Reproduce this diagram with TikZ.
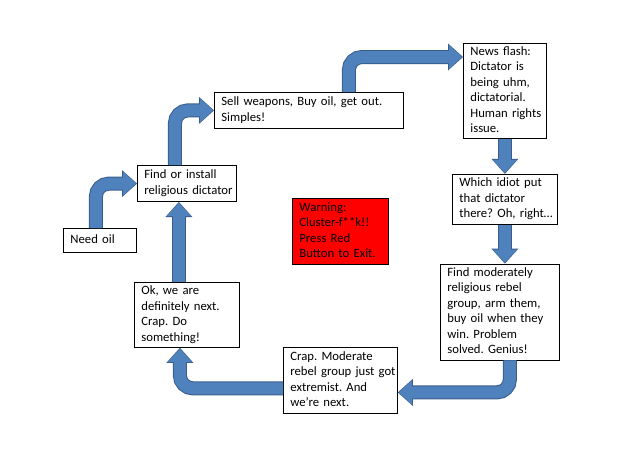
\documentclass[tikz,border=0pt]{standalone}
\usepackage{fontspec}
\setmainfont{Carlito}
\usetikzlibrary{arrows.meta, positioning}
\definecolor{flowblue}{RGB}{79,129,189}
\definecolor{flowedge}{RGB}{56,93,138}
\definecolor{alarmred}{RGB}{255,0,0}
\newcommand{\boxlines}[1]{\noindent\begin{tabular}{@{}l@{}}#1\end{tabular}}

\begin{document}
\frenchspacing
\begin{tikzpicture}[x=1pt, y=-1pt,
    stepbox/.style={rectangle, draw, fill=white, line width=0.8pt, inner xsep=7pt, inner ysep=1pt, font=\fontsize{12.7}{15.4}\selectfont},
    flow/.style={draw=flowblue, line width=12pt, rounded corners=13pt, shorten >=1pt,
        -{Triangle[width=24pt, length=13pt, line width=0pt]},
        preaction={draw=flowedge, line width=14pt, shorten >=0pt, -{Triangle[width=27pt, length=15pt, line width=0pt]}}}]
    \useasboundingbox (0,0) rectangle (640,453);

    % Start
    \node[stepbox, anchor=north west, text width=59pt, minimum height=24pt] (needoil) at (63,228) {\boxlines{Need oil}};

    % Going in
    \node[stepbox, anchor=north west, text width=91pt, minimum height=65pt] (next) at (134,282) {\boxlines{Ok, we are\\definitely next.\\Crap. Do\\something!}};
    \node[stepbox, text width=85pt, minimum height=36pt, above=80pt of next] (install) {\boxlines{Find or install\\religious dictator}};
    \node[stepbox, anchor=north west, text width=175pt, minimum height=36pt] (sell) at (214,92) {\boxlines{Sell weapons, Buy oil, get out.\\Simples!}};

    % Things go wrong
    \node[stepbox, anchor=north west, text width=69pt, minimum height=95pt] (news) at (463,43) {\boxlines{News flash:\\Dictator is\\being uhm,\\dictatorial.\\Human rights\\issue.}};
    \node[stepbox, text width=91pt, minimum height=50pt, below=35pt of news] (idiot) {\boxlines{Which idiot put\\that dictator\\there? Oh, right…}};
    \node[stepbox, text width=105pt, minimum height=96pt, below=39pt of idiot, xshift=-5pt] (rebel) {\boxlines{Find moderately\\religious rebel\\group, arm them,\\buy oil when they\\win. Problem\\solved. Genius!}};
    \node[stepbox, anchor=north west, text width=100pt, minimum height=66pt] (extreme) at (283,347) {\boxlines{Crap. Moderate\\rebel group just got\\extremist. And\\we’re next.}};

    % Exit
    \node[stepbox, fill=alarmred, anchor=north west, text width=82pt, minimum height=66pt] (warning) at (292,198) {\boxlines{Warning:\\Cluster-f**k!!\\Press Red\\Button to Exit.}};

    % Arrows
    \draw[flow] ([xshift=-4pt]needoil.north) |- (install.west);
    \draw[flow] ([xshift=-12pt]install.north) |- (sell.west);
    \draw[flow] ([xshift=40pt]sell.north) |- ([yshift=-14pt]news.north west);
    \draw[flow] (news.south) -- (idiot.north);
    \draw[flow] (idiot.south) -- (idiot.south |- rebel.north);
    \draw[flow] ([xshift=10pt]rebel.south) |- ([yshift=-12pt]extreme.east);
    \draw[flow] ([yshift=-8pt]extreme.west) -| ([xshift=-7pt]next.south);
    \draw[flow] ([xshift=-8pt]next.north) -- ([xshift=-8pt]install.south);
\end{tikzpicture}
\end{document}
